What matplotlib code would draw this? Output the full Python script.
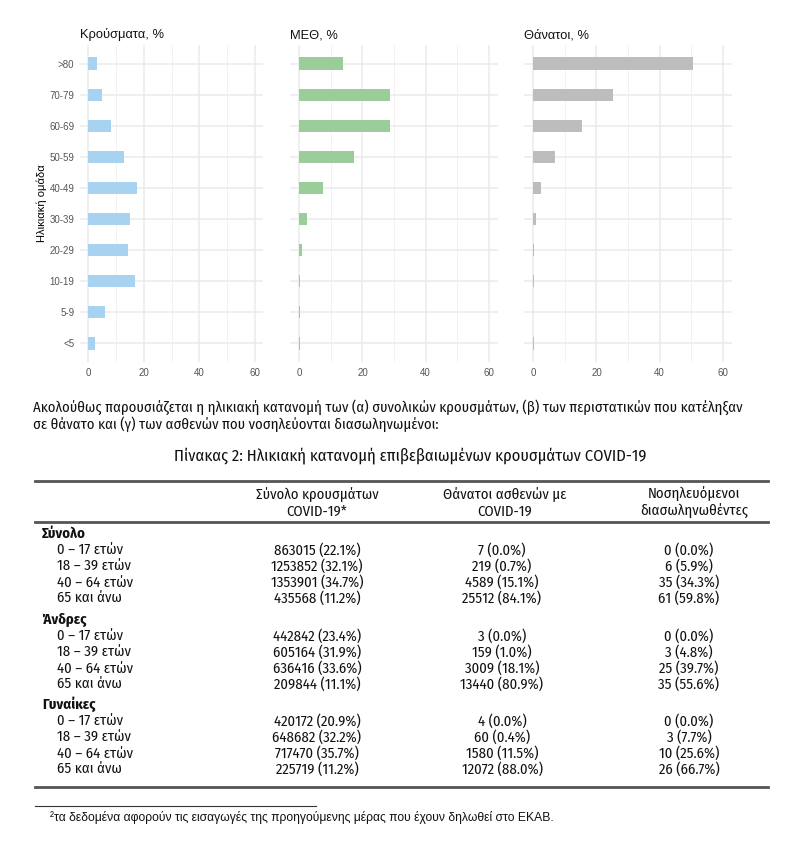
import matplotlib
matplotlib.use('Agg')
import matplotlib.pyplot as plt
from matplotlib import font_manager
import numpy as np

# age groups, bottom to top
age_groups = ['<5', '5-9', '10-19', '20-29', '30-39', '40-49', '50-59', '60-69', '70-79', '>80']
cases_pct = [2.5, 6.1, 16.8, 14.3, 15.0, 17.5, 12.9, 8.2, 5.0, 3.2]
icu_pct = [0.15, 0.15, 0.2, 0.85, 2.3, 7.5, 17.3, 28.8, 28.8, 13.7]
deaths_pct = [0.1, 0.0, 0.1, 0.3, 0.7, 2.3, 6.8, 15.3, 25.2, 50.6]

panel_titles = ['Κρούσματα, %', 'ΜΕΘ, %', 'Θάνατοι, %']
panel_colors = ['#A7D3F0', '#9ACD99', '#BDBDBD']

# table
col_headers = [('Σύνολο κρουσμάτων', 'COVID-19*'), ('Θάνατοι ασθενών με', 'COVID-19'),
               ('Νοσηλευόμενοι', 'διασωληνωθέντες')]
groups = ['Σύνολο', 'Άνδρες', 'Γυναίκες']
row_labels = ['0 – 17 ετών', '18 – 39 ετών', '40 – 64 ετών', '65 και άνω']
table_cases = [['863015 (22.1%)', '1253852 (32.1%)', '1353901 (34.7%)', '435568 (11.2%)'],
               ['442842 (23.4%)', '605164 (31.9%)', '636416 (33.6%)', '209844 (11.1%)'],
               ['420172 (20.9%)', '648682 (32.2%)', '717470 (35.7%)', '225719 (11.2%)']]
table_deaths = [['7 (0.0%)', '219 (0.7%)', '4589 (15.1%)', '25512 (84.1%)'],
                ['3 (0.0%)', '159 (1.0%)', '3009 (18.1%)', '13440 (80.9%)'],
                ['4 (0.0%)', '60 (0.4%)', '1580 (11.5%)', '12072 (88.0%)']]
table_intub = [['0 (0.0%)', '6 (5.9%)', '35 (34.3%)', '61 (59.8%)'],
               ['0 (0.0%)', '3 (4.8%)', '25 (39.7%)', '35 (55.6%)'],
               ['0 (0.0%)', '3 (7.7%)', '10 (25.6%)', '26 (66.7%)']]

paragraph = ['Ακολούθως παρουσιάζεται η ηλικιακή κατανομή των (α) συνολικών κρουσμάτων, (β) των περιστατικών που κατέληξαν',
             'σε θάνατο και (γ) των ασθενών που νοσηλεύονται διασωληνωμένοι:']
caption = 'Πίνακας 2: Ηλικιακή κατανομή επιβεβαιωμένων κρουσμάτων COVID-19'
footnote = '²τα δεδομένα αφορούν τις εισαγωγές της προηγούμενης μέρας που έχουν δηλωθεί στο ΕΚΑΒ.'

available = {f.name for f in font_manager.fontManager.ttflist}
chart_font = ['Liberation Sans', 'DejaVu Sans']
doc_font = [n for n in ['Fira Sans Condensed', 'DejaVu Sans'] if n in available]
doc_stretch = 'normal' if doc_font[0] == 'Fira Sans Condensed' else 'condensed'

W, H = 809, 847
fig = plt.figure(figsize=(W / 100, H / 100), dpi=100)


def px_axes(left, right, top, bottom):
    return fig.add_axes([left / W, 1 - bottom / H, (right - left) / W, (bottom - top) / H])


panel_x = [(80, 263), (290, 498), (524, 732)]
series = [cases_pct, icu_pct, deaths_pct]
y = np.arange(len(age_groups))
for i, (l, r) in enumerate(panel_x):
    ax = px_axes(l, r, 45, 362)
    ax.set_xlim(-3, 63)
    ax.set_ylim(-0.6, len(age_groups) - 0.4)
    ax.set_xticks([0, 20, 40, 60])
    ax.set_xticks([10, 30, 50], minor=True)
    ax.set_yticks(y)
    ax.grid(True, which='major', axis='both', color='#EBEBEB', lw=1.1)
    ax.grid(True, which='minor', axis='x', color='#F2F2F2', lw=0.7)
    ax.set_axisbelow(True)
    for s in ax.spines.values():
        s.set_visible(False)
    ax.tick_params(length=0, labelsize=7, labelcolor='#555555', pad=4)
    ax.tick_params(which='minor', length=0)
    ax.barh(y, series[i], height=0.4, color=panel_colors[i])
    for lab in ax.get_xticklabels():
        lab.set_family(chart_font)
    if i == 0:
        ax.set_yticklabels(age_groups, family=chart_font)
        ax.set_ylabel('Ηλικιακή ομάδα', family=chart_font, fontsize=8)
        ax.yaxis.set_label_coords((47 - l) / (r - l), 0.5)
    else:
        ax.set_yticklabels([])
    ax.text(0, 1.012, panel_titles[i], transform=ax.transAxes, ha='left', va='bottom',
            fontsize=9.3, family=chart_font, color='#111111')


def fx(x):
    return x / W


def fy(y):
    return 1 - y / H


doc_kw = dict(family=doc_font, stretch=doc_stretch, color='#111111')
fs = 10.6
for k, line in enumerate(paragraph):
    fig.text(fx(33), fy(412 + k * 17), line, ha='left', va='baseline', fontsize=fs, **doc_kw)
fig.text(fx(410), fy(460), caption, ha='center', va='baseline', fontsize=11.9, **doc_kw)

rule_kw = dict(color='#555555', lw=2.0, transform=fig.transFigure)
fig.add_artist(plt.Line2D([fx(35), fx(768)], [fy(481.5), fy(481.5)], **rule_kw))
fig.add_artist(plt.Line2D([fx(35), fx(768)], [fy(522), fy(522)], **rule_kw))
fig.add_artist(plt.Line2D([fx(35), fx(768)], [fy(787), fy(787)], **rule_kw))

hdr_x = [317, 505, 694]
col_x = [317, 502, 689]
for cx, (h1, h2) in zip(hdr_x, col_headers):
    fig.text(fx(cx), fy(499), h1, ha='center', va='baseline', fontsize=fs, **doc_kw)
    fig.text(fx(cx), fy(516), h2, ha='center', va='baseline', fontsize=fs, **doc_kw)

group_y = [538, 624, 709]
for g, gy in enumerate(group_y):
    fig.text(fx(42), fy(gy), groups[g], ha='left', va='baseline', fontsize=fs,
             weight='bold', **doc_kw)
    for r, lab in enumerate(row_labels):
        ry = gy + 17 + r * 16
        fig.text(fx(57), fy(ry), lab, ha='left', va='baseline', fontsize=fs, **doc_kw)
        vals = [table_cases[g][r], table_deaths[g][r], table_intub[g][r]]
        for cx, v in zip(col_x, vals):
            fig.text(fx(cx), fy(ry), v, ha='center', va='baseline', fontsize=fs, **doc_kw)

fig.add_artist(plt.Line2D([fx(35), fx(316)], [fy(806), fy(806)], color='#333333', lw=0.8,
                          transform=fig.transFigure))
fig.text(fx(50), fy(821), footnote, ha='left', va='baseline', fontsize=8.7, family=chart_font,
         color='#111111')

fig.savefig('out.png', dpi=100, facecolor='white')
